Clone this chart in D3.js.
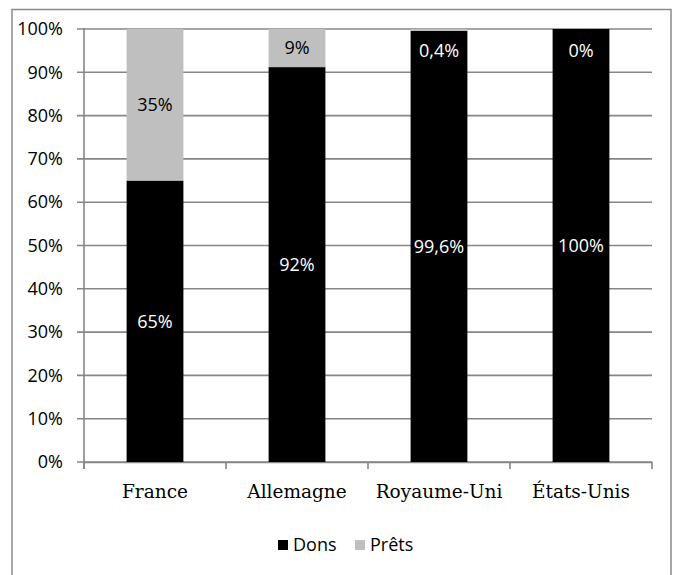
<!DOCTYPE html>
<html><head><meta charset="utf-8">
<script src="https://cdn.jsdelivr.net/npm/d3@7"></script>
<style>body{margin:0;background:#fff}svg{display:block}</style>
</head><body>
<script>
const categories = ["France", "Allemagne", "Royaume-Uni", "États-Unis"];
const dons = [65, 91.2, 99.6, 100];
const prets = [35, 8.8, 0.4, 0];
const donsLabels = ["65%", "92%", "99,6%", "100%"];
const pretsLabels = ["35%", "9%", "0,4%", "0%"];
const yTicks = [0, 10, 20, 30, 40, 50, 60, 70, 80, 90, 100];
const seriesNames = ["Dons", "Prêts"];
const colors = ["#000000", "#bfbfbf"];

const W = 676, H = 575;
const svg = d3.select("body").append("svg").attr("width", W).attr("height", H);
const sans = "'Open Sans', sans-serif";
const serif = "'DejaVu Serif', serif";

svg.append("rect").attr("x", 12).attr("y", 9.5).attr("width", 659).attr("height", 620)
  .attr("fill", "#fff").attr("stroke", "#8a8a8a").attr("stroke-width", 1.5);

const L = 84, R = 652, T = 29, B = 462;
const x = d3.scaleBand().domain(categories).range([L, R]).paddingInner(0.6).paddingOuter(0.3);
const y = d3.scaleLinear().domain([0, 100]).range([B, T]);

// gridlines
svg.append("g").selectAll("line").data(yTicks).join("line")
  .attr("x1", L - 7).attr("x2", R).attr("y1", d => y(d)).attr("y2", d => y(d))
  .attr("stroke", "#868686").attr("stroke-width", 1.6);

// y axis
const yAxis = svg.append("g").attr("transform", `translate(${L},0)`)
  .call(d3.axisLeft(y).tickValues(yTicks).tickFormat(d => d + "%").tickSize(0).tickPadding(21));
yAxis.select(".domain").remove();
yAxis.selectAll("text").attr("font-family", sans).attr("font-size", 18).attr("fill", "#000");
svg.append("line").attr("x1", L).attr("x2", L).attr("y1", T - 1).attr("y2", B + 7)
  .attr("stroke", "#868686").attr("stroke-width", 1.6);

// x axis
const xAxis = svg.append("g").attr("transform", `translate(0,${B})`)
  .call(d3.axisBottom(x).tickSize(0).tickPadding(23));
xAxis.select(".domain").attr("stroke", "#868686").attr("stroke-width", 1.6);
xAxis.selectAll("text").attr("font-family", serif).attr("font-size", 18.5).attr("fill", "#000");
const bounds = [L].concat(categories.map(c => x(c) + x.bandwidth() + x.step() * x.paddingInner() / 2));
bounds[bounds.length - 1] = R;
svg.append("g").selectAll("line").data(bounds).join("line")
  .attr("x1", d => d).attr("x2", d => d).attr("y1", B).attr("y2", B + 7)
  .attr("stroke", "#868686").attr("stroke-width", 1.6);

// stacked bars
const rows = categories.map((c, i) => ({ c, dons: dons[i], prets: prets[i], dl: donsLabels[i], pl: pretsLabels[i] }));
const g = svg.append("g");
g.selectAll("rect.dons").data(rows).join("rect").attr("class", "dons")
  .attr("x", d => x(d.c)).attr("width", x.bandwidth())
  .attr("y", d => y(d.dons)).attr("height", d => y(0) - y(d.dons)).attr("fill", colors[0]);
g.selectAll("rect.prets").data(rows).join("rect").attr("class", "prets")
  .attr("x", d => x(d.c)).attr("width", x.bandwidth())
  .attr("y", d => y(d.dons + d.prets)).attr("height", d => y(d.dons) - y(d.dons + d.prets)).attr("fill", colors[1]);

// labels
g.selectAll("text.dl").data(rows).join("text")
  .attr("x", d => x(d.c) + x.bandwidth() / 2).attr("y", d => y(d.dons / 2)).attr("dy", "0.35em")
  .attr("text-anchor", "middle").attr("font-family", sans).attr("font-size", 18).attr("fill", "#fff")
  .text(d => d.dl);
g.selectAll("text.pl").data(rows).join("text")
  .attr("x", d => x(d.c) + x.bandwidth() / 2)
  .attr("y", d => {
    const h = y(d.dons) - y(d.dons + d.prets);
    return h < 30 ? y(d.dons + d.prets) + 22 : y(d.dons + d.prets / 2);
  })
  .attr("dy", "0.35em")
  .attr("text-anchor", "middle").attr("font-family", sans).attr("font-size", 18)
  .attr("fill", d => (y(d.dons) - y(d.dons + d.prets)) < 30 ? "#fff" : "#000")
  .text(d => d.pl);

// legend
const legend = svg.append("g").attr("transform", "translate(278,540)");
const items = legend.selectAll("g").data(seriesNames).join("g")
  .attr("transform", (d, i) => `translate(${i * 77},0)`);
items.append("rect").attr("width", 10).attr("height", 10).attr("fill", (d, i) => colors[i]);
items.append("text").attr("x", 15).attr("y", 5).attr("dy", "0.35em")
  .attr("font-family", sans).attr("font-size", 18).attr("fill", "#000").text(d => d);
</script>
</body></html>
